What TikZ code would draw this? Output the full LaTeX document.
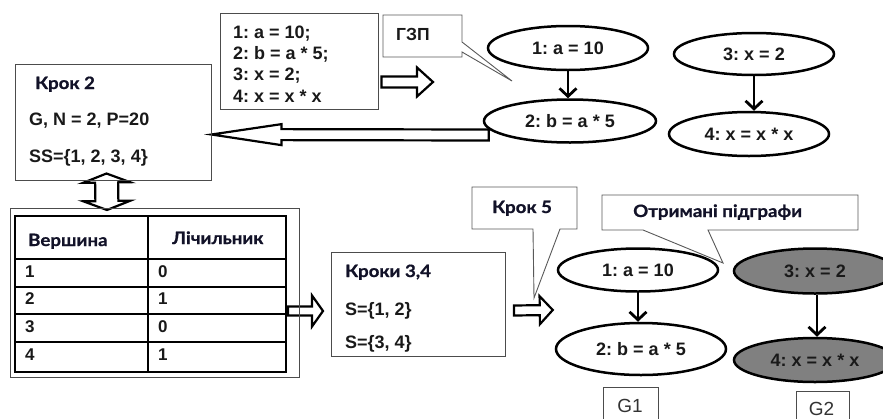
\documentclass[tikz,border=0pt]{standalone}
\usepackage{fontspec}
\setmainfont{Liberation Sans}
\newfontfamily\gothic{Lato}[FakeStretch=1.1, BoldFeatures={FakeBold=0.8}]
\usetikzlibrary{calc,shapes.geometric,arrows.meta}
\pgfdeclarelayer{background}
\pgfsetlayers{background,main}
\frenchspacing

\tikzset{
  frame/.style={draw=black!70, line width=1pt},
  callout/.style={draw=black!65, line width=0.9pt, fill=white, line join=miter},
  txt/.style={font=\bfseries\fontsize{18}{21.3}\selectfont, text=black!90, inner sep=0pt},
  smalltxt/.style={font=\bfseries\fontsize{17}{20}\selectfont, text=black!90, inner sep=0pt},
  gtxt/.style={font=\gothic\bfseries\fontsize{17}{20}\selectfont,
    text={rgb,255:red,18;green,18;blue,40}, inner sep=0pt},
  lbl/.style={font=\fontsize{19}{22}\selectfont, text=black!80, inner sep=0pt},
  opnode/.style={ellipse, draw=black, line width=2.5pt, fill=white, inner sep=0pt, txt},
  greyop/.style={opnode, fill=black!50, text=black!90},
  flow/.style={line width=2.8pt, -{Straight Barb[length=8pt,width=17pt]}},
  fat/.style={draw=black, line width=2.2pt, fill=white, line join=miter},
  tline/.style={draw=black, line width=1.4pt},
}

% hollow block arrow: tail, tip, shaft half-width, head half-width, head length
\newcommand\fatarrow[5]{%
  \coordinate (fatT) at (#1);
  \coordinate (fatP) at (#2);
  \coordinate (fatH) at ($(fatP)!#5!(fatT)$);
  \path[fat] ($(fatT)!#3!90:(fatP)$) -- ($(fatH)!#3!90:(fatP)$)
    -- ($(fatH)!#4!90:(fatP)$) -- (fatP) -- ($(fatH)!#4!-90:(fatP)$)
    -- ($(fatH)!#3!-90:(fatP)$) -- ($(fatT)!#3!-90:(fatP)$) -- cycle;
}
% hollow block arrow with a head at both ends
\newcommand\fatdarrow[5]{%
  \coordinate (fdA) at (#1);
  \coordinate (fdB) at (#2);
  \coordinate (fdHA) at ($(fdA)!#5!(fdB)$);
  \coordinate (fdHB) at ($(fdB)!#5!(fdA)$);
  \path[fat] (fdA) -- ($(fdHA)!#4!90:(fdB)$) -- ($(fdHA)!#3!90:(fdB)$)
    -- ($(fdHB)!#3!90:(fdB)$) -- ($(fdHB)!#4!90:(fdB)$) -- (fdB)
    -- ($(fdHB)!#4!-90:(fdB)$) -- ($(fdHB)!#3!-90:(fdB)$)
    -- ($(fdHA)!#3!-90:(fdB)$) -- ($(fdHA)!#4!-90:(fdB)$) -- cycle;
}

\begin{document}
\begin{tikzpicture}[x=1pt,y=-1pt]
\useasboundingbox (0,0) rectangle (883,418);

% ---------- program listing ----------
\node[frame, minimum width=158pt, minimum height=96pt] (code) at (299,61) {};
\node[txt, anchor=base west] (c1) at (233,38) {1: a = 10;};
\node[txt, anchor=base west] (c2) at (233,59.3) {2: b = a * 5;};
\node[txt, anchor=base west] (c3) at (233,80.6) {3: x = 2;};
\node[txt, anchor=base west] (c4) at (233,102) {4: x = x * x};
\coordinate (codeout) at (433,82);

% ---------- ГЗП callout ----------
\begin{pgfonlayer}{background}
  \path[callout] (383,15) -- (462,15) -- (462,42) -- (512,81) -- (462,52)
    -- (462,57) -- (383,57) -- cycle;
\end{pgfonlayer}
\node[txt, font=\bfseries\fontsize{17.5}{20}\selectfont, anchor=base west] (gzp) at (396,40.5) {ГЗП};

% ---------- data dependency graph ----------
\node[opnode, minimum width=160pt, minimum height=44pt] (e1) at (568,48) {1: a = 10};
\node[opnode, minimum width=172pt, minimum height=43pt] (e2) at (570,121) {2: b = a * 5};
\node[opnode, minimum width=160pt, minimum height=42pt] (e3) at (754,54) {3: x = 2};
\node[opnode, minimum width=160pt, minimum height=44pt] (e4) at (749,134) {4: x = x * x};
\draw[flow] (e1.south) -- (e1.south |- e2.north);
\draw[flow] (e3.south) -- (e3.south |- e4.north);

% ---------- step 2 ----------
\node[frame, minimum width=196pt, minimum height=116pt] (k2) at (113,122) {};
\node[gtxt, anchor=base west] (k2t) at (35,89) {Крок 2};
\node[txt, anchor=base west] (k2a) at (29,125) {G, N = 2, P=20};
\node[txt, anchor=base west] (k2b) at (29,162) {SS=\{1, 2, 3, 4\}};

% ---------- counter table ----------
\node[frame, minimum width=289pt, minimum height=169pt, anchor=north west] (tbl) at (10,208) {};
\draw[tline] (15,216) rectangle (286,372);
\draw[tline] (148,216) -- (148,372);
\foreach \yy in {259,287,314,342} \draw[tline] (15,\yy) -- (286,\yy);
\node[gtxt, anchor=base west] (h1) at (28,246) {Вершина};
\node[gtxt, anchor=base west] (h2) at (172,244) {Лічильник};
\foreach \v/\c/\yy [count=\i] in {1/0/277, 2/1/304, 3/0/332, 4/1/360} {
  \node[smalltxt, anchor=base west] (v\i) at (25,\yy) {\v};
  \node[smalltxt, anchor=base west] (n\i) at (158,\yy) {\c};
}

% ---------- steps 3,4 ----------
\node[frame, minimum width=174pt, minimum height=104pt, anchor=north west] (k34) at (331,252) {};
\node[gtxt, anchor=base west] (k34t) at (345,277) {Кроки 3,4};
\node[txt, anchor=base west] (s1) at (345,315) {S=\{1, 2\}};
\node[txt, anchor=base west] (s2) at (345,348) {S=\{3, 4\}};

% ---------- step 5 callout ----------
\begin{pgfonlayer}{background}
  \path[callout] (472,187) -- (577,187) -- (577,229) -- (560,229) -- (534,298)
    -- (533,229) -- (472,229) -- cycle;
  \path[callout] (602,195) -- (858,195) -- (858,230) -- (708,230) -- (723,263)
    -- (643,230) -- (602,230) -- cycle;
\end{pgfonlayer}
\node[gtxt, anchor=base west] (k5) at (492,213) {Крок 5};
\node[gtxt, anchor=base west] (res) at (633,217) {Отримані підграфи};

% ---------- resulting subgraphs ----------
\node[opnode, minimum width=160pt, minimum height=43pt] (g1a) at (638,270) {1: a = 10};
\node[opnode, minimum width=170pt, minimum height=52pt] (g1b) at (641,349) {2: b = a * 5};
\node[greyop, minimum width=162pt, minimum height=45pt] (g2a) at (815,271) {3: x = 2};
\node[greyop, minimum width=162pt, minimum height=44pt] (g2b) at (815,360) {4: x = x * x};
\draw[flow] (g1a.south) -- (g1a.south |- g1b.north);
\draw[flow] ($(g2a.south)+(2,0)$) -- ($(g2a.south |- g2b.north)+(2,0)$);

\node[frame, minimum width=55pt, minimum height=44pt, anchor=north west] (bg1) at (603,387) {};
\node[frame, minimum width=53pt, minimum height=44pt, anchor=north west] (bg2) at (796,391) {};
\node[lbl, anchor=base] (lg1) at (630,412) {G1};
\node[lbl, anchor=base] (lg2) at (821.5,415) {G2};

% ---------- block arrows ----------
\begin{pgfonlayer}{background}
  \fatarrow{$(code.east)+(3,21)$}{codeout}{5.5pt}{14.5pt}{16pt}
  \fatarrow{$(e2.west)+(6,14)$}{$(k2.east)+(0,12.5)$}{5.5pt}{10.5pt}{70pt}
  \fatdarrow{$(k2.south west)+(92,-7)$}{$(tbl.north west)+(97,2)$}{11.5pt}{23.5pt}{9pt}
  \fatarrow{$(tbl.east)+(-12,18)$}{$(k34.west)+(-8,6.5)$}{4.5pt}{15.5pt}{11pt}
  \fatarrow{$(k34.east)+(8,6)$}{$(g1a.west)+(-4,40)$}{5pt}{14pt}{13pt}
\end{pgfonlayer}
\end{tikzpicture}
\end{document}
